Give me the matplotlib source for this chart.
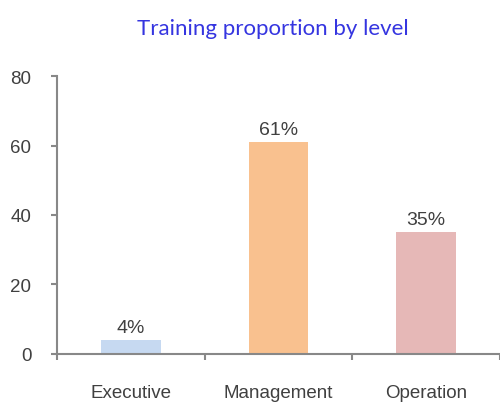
import matplotlib.pyplot as plt
import numpy as np

levels = ['Executive', 'Management', 'Operation']
proportion = [4, 61, 35]
bar_colors = ['#c6d9f1', '#f9c18f', '#e6b8b7']
y_ticks = [0, 20, 40, 60, 80]

fig = plt.figure(figsize=(5, 4.06), dpi=100)
ax = fig.add_axes([0.114, 0.126, 0.886, 0.684])

x = np.arange(len(levels))
bars = ax.bar(x, proportion, width=0.405, color=bar_colors)

for b, v in zip(bars, proportion):
    ax.annotate(f'{v}%', (b.get_x() + b.get_width() / 2, v), xytext=(0, 3),
                textcoords='offset points', ha='center', va='bottom',
                fontsize=14, color='#404040', family='Liberation Sans')

ax.set_xlim(-0.5, 2.5)
ax.set_ylim(0, 80)
ax.set_yticks(y_ticks)
ax.set_xticks(x)
ax.set_xticklabels(levels)
ax.set_xticks(np.arange(-0.5, 3, 1), minor=True)
ax.tick_params(axis='x', which='major', length=0, pad=22)
ax.tick_params(axis='x', which='minor', length=4.5, width=1.5, color='#888888', direction='out')
ax.tick_params(axis='y', length=4.5, width=1.5, color='#888888', pad=14)
for lab in ax.get_xticklabels() + ax.get_yticklabels():
    lab.set_family('Liberation Sans')
    lab.set_fontsize(13.5)
    lab.set_color('#404040')

for s in ['top', 'right']:
    ax.spines[s].set_visible(False)
for s in ['left', 'bottom']:
    ax.spines[s].set_color('#888888')
    ax.spines[s].set_linewidth(1.5)

fig.text(0.546, 0.928, 'Training proportion by level', ha='center', va='center',
         fontsize=16, color='#3535e0', family='Lato')

fig.savefig('out.png', dpi=100)
